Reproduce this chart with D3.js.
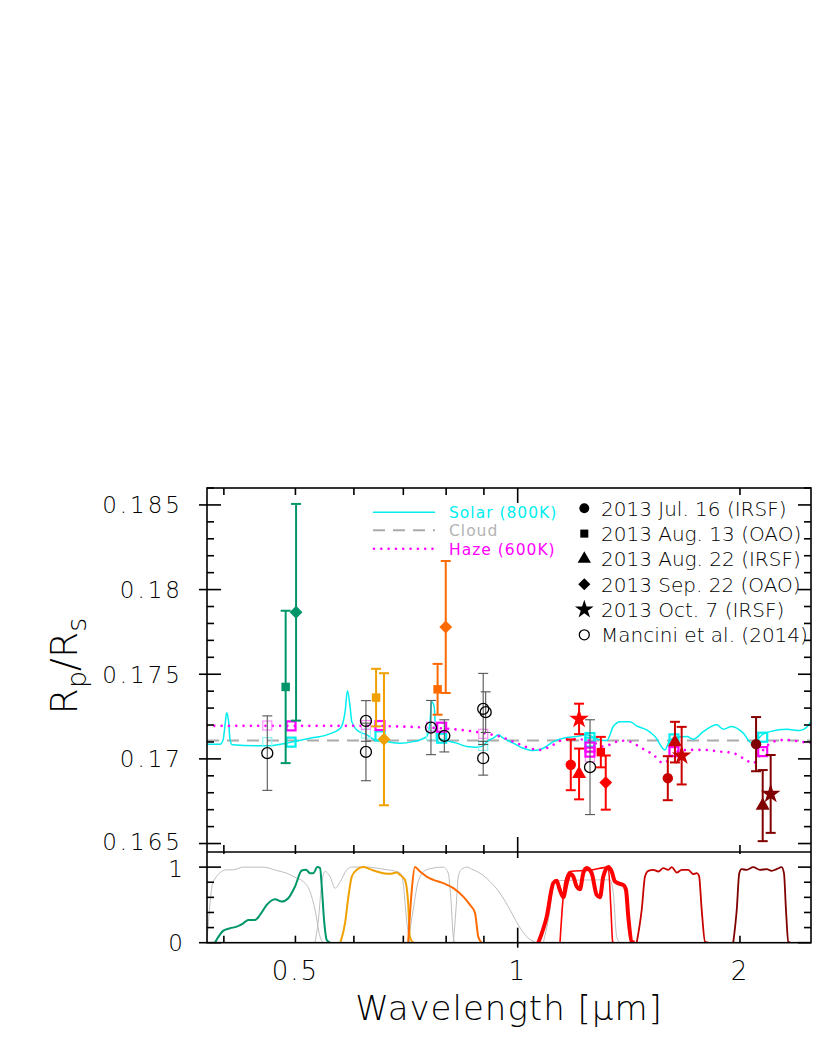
<!DOCTYPE html>
<html>
<head>
<meta charset="utf-8">
<script src="https://d3js.org/d3.v7.min.js"></script>
<style>
  body { margin: 0; background: #fff; }
</style>
</head>
<body>
<svg></svg>
<script>
// ---- data ----
// transit depth points per night: band, wavelength [um], Rp/Rs, 1-sigma error
const jul16 = [
  {band: "J",  wl: 1.180,  rp: 0.16965, err: 0.0015},
  {band: "H",  wl: 1.597,  rp: 0.16886, err: 0.0013},
  {band: "Ks", wl: 2.103,  rp: 0.17087, err: 0.0016}
];
const aug13 = [
  {band: "g", wl: 0.485, rp: 0.17425, err: 0.0045},
  {band: "r", wl: 0.643, rp: 0.17362, err: 0.0017},
  {band: "i", wl: 0.779, rp: 0.17411, err: 0.0015},
  {band: "J", wl: 1.296, rp: 0.17040, err: 0.0009}
];
const aug22 = [
  {band: "J",  wl: 1.211, rp: 0.16911, err: 0.0015},
  {band: "H",  wl: 1.633, rp: 0.17099, err: 0.0012},
  {band: "Ks", wl: 2.147, rp: 0.16724, err: 0.0021}
];
const sep22 = [
  {band: "g", wl: 0.501, rp: 0.17866, err: 0.0064},
  {band: "r", wl: 0.659, rp: 0.17116, err: 0.0039},
  {band: "i", wl: 0.799, rp: 0.17779, err: 0.0039},
  {band: "J", wl: 1.316, rp: 0.16860, err: 0.0016}
];
const oct7 = [
  {band: "J",  wl: 1.211,  rp: 0.17236, err: 0.0009},
  {band: "H",  wl: 1.6675, rp: 0.17019, err: 0.0017},
  {band: "Ks", wl: 2.201,  rp: 0.16793, err: 0.0023}
];
const mancini = [
  {wl: 0.458,  rp: 0.17034, err: 0.0022},
  {wl: 0.623,  rp: 0.17224, err: 0.0012},
  {wl: 0.623,  rp: 0.17041, err: 0.0017},
  {wl: 0.763,  rp: 0.17185, err: 0.0016},
  {wl: 0.7955, rp: 0.17136, err: 0.00095},
  {wl: 0.898,  rp: 0.17295, err: 0.0021},
  {wl: 0.905,  rp: 0.17276, err: 0.0012},
  {wl: 0.898,  rp: 0.17004, err: 0.0010},
  {wl: 1.253,  rp: 0.16951, err: 0.0028}
];

// model spectra [wavelength, Rp/Rs]
const solarModel = [
  [0.3795,0.17087],[0.3953,0.17087],[0.3990,0.17112],[0.4019,0.17218],[0.4034,0.17273],
  [0.4057,0.17230],[0.4078,0.17112],[0.4104,0.17084],[0.4572,0.17077],[0.4865,0.17093],
  [0.5233,0.17122],[0.5513,0.17142],[0.5752,0.17181],[0.5838,0.17279],[0.5880,0.17403],
  [0.5929,0.17309],[0.5961,0.17220],[0.6054,0.17171],[0.6245,0.17142],[0.6408,0.17112],
  [0.6645,0.17102],[0.6925,0.17093],[0.7218,0.17102],[0.7528,0.17132],[0.7606,0.17213],
  [0.7646,0.17338],[0.7708,0.17309],[0.7750,0.17132],[0.7929,0.17112],[0.8269,0.17093],
  [0.8530,0.17073],[0.8800,0.17069],[0.8984,0.17077],[0.9079,0.17102],[0.9268,0.17122],
  [0.9413,0.17142],[0.9561,0.17122],[0.9864,0.17093],[1.0176,0.17063],[1.0499,0.17049],
  [1.0831,0.17063],[1.1174,0.17102],[1.1528,0.17122],[1.2019,0.17132],[1.2400,0.17142],
  [1.2925,0.17112],[1.3199,0.17108],[1.3473,0.17191],[1.3758,0.17220],[1.4194,0.17220],
  [1.4494,0.17195],[1.4952,0.17171],[1.5344,0.17132],[1.5830,0.17053],[1.6079,0.17112],
  [1.6421,0.17128],[1.6938,0.17132],[1.7292,0.17116],[1.7838,0.17161],[1.8600,0.17201],
  [1.8987,0.17175],[1.9489,0.17191],[2.0206,0.17152],[2.0742,0.17093],[2.1068,0.17112],
  [2.1506,0.17146],[2.1961,0.17161],[2.3137,0.17175],[2.4116,0.17167],[2.4623,0.17187],
  [2.4956,0.17220]
];
const hazeModel = [
  [0.3795,0.17195],[0.6115,0.17195],[0.7373,0.17187],[0.8530,0.17167],[0.8984,0.17152],
  [0.9463,0.17132],[0.9969,0.17093],[1.0285,0.17069],[1.0720,0.17053],[1.1060,0.17073],
  [1.1528,0.17112],[1.2019,0.17116],[1.2528,0.17108],[1.3059,0.17073],[1.3473,0.17093],
  [1.3758,0.17108],[1.4194,0.17102],[1.4644,0.17069],[1.5265,0.17024],[1.5748,0.16975],
  [1.5916,0.16984],[1.6421,0.17043],[1.7114,0.17053],[1.7838,0.17053],[1.8792,0.17043],
  [1.9585,0.17034],[2.0206,0.17004],[2.0846,0.16975],[2.1506,0.17053],[2.2188,0.17102],
  [2.3137,0.17112],[2.4116,0.17102],[2.4956,0.17093]
];
const cloudLevel = 0.17108;

// band-integrated model values
const solarBinOurs = [
  {wl: 0.4932, rp: 0.17099}, {wl: 0.6509, rp: 0.17136}, {wl: 0.7889, rp: 0.17122},
  {wl: 1.2528, rp: 0.17126}, {wl: 1.2528, rp: 0.17099}, {wl: 1.628, rp: 0.17118},
  {wl: 2.147, rp: 0.17128}
];
const hazeBinOurs = [
  {wl: 0.4932, rp: 0.17195}, {wl: 0.6509, rp: 0.17197}, {wl: 0.7889, rp: 0.17187},
  {wl: 1.2528, rp: 0.17070}, {wl: 1.2528, rp: 0.17040}, {wl: 1.628, rp: 0.17043},
  {wl: 2.147, rp: 0.17043}
];
const solarBinMancini = [
  {wl: 0.458, rp: 0.17099}, {wl: 0.623, rp: 0.17150}, {wl: 0.763, rp: 0.17140},
  {wl: 0.898, rp: 0.17077}
];
const hazeBinMancini = [
  {wl: 0.458, rp: 0.17197}, {wl: 0.623, rp: 0.17200}, {wl: 0.763, rp: 0.17190},
  {wl: 0.898, rp: 0.17148}, {wl: 1.2528, rp: 0.17010}
];

// filter transmission curves [wavelength, T]
const filterG = [
  [0.389,0],[0.3994,0.159],[0.4078,0.191],[0.4163,0.212],[0.4250,0.257],[0.4317,0.301],
  [0.4408,0.301],[0.4477,0.367],[0.4572,0.500],[0.4691,0.576],[0.4790,0.544],[0.4890,0.589],
  [0.4994,0.743],[0.5099,0.955],[0.5168,0.964],[0.5233,0.920],[0.5287,0.920],[0.5354,1.0],
  [0.5399,0.987],[0.5428,0.743],[0.5467,0.301],[0.5513,0.036],[0.5570,0]
];
const filterR = [
  [0.5752,0],[0.5838,0.265],[0.5898,0.610],[0.5961,0.875],[0.6054,0.964],[0.6181,1.0],
  [0.6310,0.973],[0.6442,0.942],[0.6574,0.920],[0.6713,0.911],[0.6855,0.928],[0.6925,0.898],
  [0.7034,0.832],[0.7106,0.527],[0.7144,0.080],[0.7218,0]
];
const filterI = [
  [0.7106,0],[0.7182,0.659],[0.7256,1.0],[0.7373,0.942],[0.7528,0.875],[0.7685,0.832],
  [0.7929,0.788],[0.8181,0.721],[0.8439,0.610],[0.8618,0.500],[0.8753,0.394],[0.8843,0.080],
  [0.8938,0]
];
const filterJthick = [
  [1.0664,0],[1.0948,0.345],[1.1174,0.788],[1.1293,0.818],[1.1385,0.721],[1.1528,0.602],
  [1.1651,0.788],[1.1771,0.911],[1.1893,0.875],[1.2019,0.743],[1.2144,0.708],[1.2269,0.920],
  [1.2400,0.987],[1.2594,0.920],[1.2793,0.633],[1.2925,0.602],[1.3059,0.875],[1.3265,1.0],
  [1.3406,0.942],[1.3545,0.809],[1.3758,0.778],[1.3900,0.765],[1.4018,0.699],[1.4118,0.345],
  [1.4269,0.013],[1.4400,0]
];
const filterJ = [
  [1.141,0],[1.1589,0.809],[1.1771,0.942],[1.2528,0.960],[1.3265,1.0],[1.3376,0.434],
  [1.3447,0.013],[1.3500,0]
];
const filterH = [
  [1.4494,0],[1.4722,0.434],[1.4874,0.875],[1.5028,0.951],[1.5265,0.964],[1.5505,0.942],
  [1.5748,0.987],[1.5996,0.964],[1.6166,1.0],[1.6421,0.928],[1.6677,0.964],[1.7025,0.964],
  [1.7292,0.907],[1.7476,0.920],[1.7603,0.885],[1.7751,0.434],[1.7935,0.013],[1.8124,0]
];
const filterKs = [
  [1.9585,0],[1.9800,0.434],[1.9957,0.920],[2.0106,0.973],[2.0422,0.964],[2.0846,1.0],
  [2.1287,0.964],[2.1737,0.973],[2.2079,0.951],[2.2426,0.973],[2.2779,1.0],[2.2942,0.920],
  [2.3086,0.434],[2.3253,0.013],[2.3400,0]
];
const grayFilters = [
  [[0.3794,0],[0.3869,0.809],[0.4034,0.964],[0.4118,0.964],[0.4250,1.0],[0.4523,1.0],
   [0.4716,0.955],[0.4865,0.920],[0.5020,0.854],[0.5124,0.809],[0.5233,0.676],[0.5315,0.434],
   [0.5399,0.080],[0.5454,0]],
  [[0.5315,0],[0.5371,0.301],[0.5428,0.788],[0.5483,0.942],[0.5570,0.875],[0.5657,0.721],
   [0.5752,0.809],[0.5868,0.964],[0.5961,1.0],[0.6245,1.0],[0.6574,0.973],[0.6925,0.928],
   [0.6997,0.788],[0.7071,0.301],[0.7144,0]],
  [[0.7106,0],[0.7218,0.434],[0.7333,0.809],[0.7489,0.955],[0.7685,0.987],[0.7929,1.0],
   [0.8053,0.920],[0.8114,0.619],[0.8181,0.080],[0.8223,0]],
  [[0.8181,0],[0.8249,0.434],[0.8309,0.875],[0.8398,0.973],[0.8530,1.0],[0.8664,0.973],
   [0.8891,0.920],[0.9173,0.809],[0.9463,0.655],[0.9763,0.434],[1.0019,0.235],[1.0285,0.080],
   [1.0610,0]],
  [[1.0831,0],[1.1001,0.301],[1.1233,0.809],[1.1410,0.822],[1.3199,0.832],[1.3335,0.832],
   [1.3473,0.655],[1.3617,0.080],[1.3758,0]]
];

// axis ticks and labels
const wlTicks = [0.4, 0.5, 0.6, 0.7, 0.8, 0.9, 1, 2];
const wlMajor = [1];
const wlLabels = [0.5, 1, 2];
const rpMajor = [0.165, 0.17, 0.175, 0.18, 0.185];
const rpLabels = ["0.165", "0.17", "0.175", "0.18", "0.185"];
const trMajor = [0, 1];
const trMinor = [0.2, 0.4, 0.6, 0.8];

// legend
const modelLegend = ["Solar (800K)", "Cloud", "Haze (600K)"];
const nightLegend = ["2013 Jul. 16 (IRSF)", "2013 Aug. 13 (OAO)", "2013 Aug. 22 (IRSF)",
                     "2013 Sep. 22 (OAO)", "2013 Oct. 7 (IRSF)", "Mancini et al. (2014)"];

// ---- styles ----
const bandColor = {g: "#00966a", r: "#f0a000", i: "#ff6a00", J: "#ff0000", H: "#c80000", Ks: "#800000"};
const cyan = "#00eeee", magenta = "#ff00ff", cloudGray = "#aaaaaa";
const FONT = "'DejaVu Sans', sans-serif";

// ---- layout ----
var width = 817, height = 1058;
var L = 207, R = 811, T = 488, MID = 852, B = 942.7;

var x = d3.scaleLog().domain([0.3795, 2.496]).range([L, R]);
var yTop = d3.scaleLinear().domain([0.1645, 0.186]).range([MID, T]);
var yBot = d3.scaleLinear().domain([0, 1.2]).range([B, MID]);

var svg = d3.select("svg").attr("width", width).attr("height", height)
            .style("font-family", FONT).style("font-weight", 200);
svg.append("rect").attr("width", width).attr("height", height).attr("fill", "#fff");

var defs = svg.append("defs");
defs.append("clipPath").attr("id", "clipTop").append("rect")
  .attr("x", L).attr("y", T).attr("width", R - L).attr("height", MID - T);
defs.append("clipPath").attr("id", "clipBot").append("rect")
  .attr("x", L).attr("y", MID).attr("width", R - L).attr("height", B - MID);

// ---- lower panel: filter curves ----
var lowerPanel = svg.append("g").attr("clip-path", "url(#clipBot)");
var fline = d3.line().x(d => x(d[0])).y(d => yBot(d[1])).curve(d3.curveMonotoneX);

lowerPanel.selectAll("path.gray").data(grayFilters).join("path")
  .attr("class", "gray").attr("d", fline)
  .attr("fill", "none").attr("stroke", "#bdbdbd").attr("stroke-width", 1);

var colouredFilters = [
  {pts: filterG, color: bandColor.g, w: 2},
  {pts: filterR, color: bandColor.r, w: 2},
  {pts: filterI, color: bandColor.i, w: 2},
  {pts: filterJ, color: bandColor.J, w: 1.6},
  {pts: filterJthick, color: bandColor.J, w: 4},
  {pts: filterH, color: bandColor.H, w: 1.8},
  {pts: filterKs, color: bandColor.Ks, w: 1.8}
];
lowerPanel.selectAll("path.band").data(colouredFilters).join("path")
  .attr("class", "band").attr("d", d => fline(d.pts))
  .attr("fill", "none").attr("stroke", d => d.color).attr("stroke-width", d => d.w)
  .attr("stroke-linejoin", "round");

// ---- upper panel: models ----
var upperPanel = svg.append("g").attr("clip-path", "url(#clipTop)");
var mline = d3.line().x(d => x(d[0])).y(d => yTop(d[1])).curve(d3.curveMonotoneX);

upperPanel.append("line")
  .attr("x1", L).attr("x2", R).attr("y1", yTop(cloudLevel)).attr("y2", yTop(cloudLevel))
  .attr("stroke", cloudGray).attr("stroke-width", 2).attr("stroke-dasharray", "12,8");
upperPanel.append("path").datum(solarModel).attr("d", mline)
  .attr("fill", "none").attr("stroke", cyan).attr("stroke-width", 1.5);
upperPanel.append("path").datum(hazeModel).attr("d", mline)
  .attr("fill", "none").attr("stroke", magenta).attr("stroke-width", 2.6)
  .attr("stroke-dasharray", "0.01,7.3").attr("stroke-linecap", "round");

function binSquares(data, color, sw) {
  upperPanel.append("g").selectAll("rect").data(data).join("rect")
    .attr("x", d => x(d.wl) - 4.5).attr("y", d => yTop(d.rp) - 4.5)
    .attr("width", 9).attr("height", 9)
    .attr("fill", "none").attr("stroke", color).attr("stroke-width", sw);
}
binSquares(solarBinMancini, "#8ff5f5", 1.2);
binSquares(hazeBinMancini, "#ff8cff", 1.2);
binSquares(solarBinOurs, cyan, 2.2);
binSquares(hazeBinOurs, magenta, 2.2);

// ---- error bars and markers ----
function errorBars(g, data, colorFn, sw) {
  var eb = g.append("g").selectAll("g").data(data).join("g")
    .attr("stroke", colorFn).attr("stroke-width", sw);
  eb.append("line").attr("x1", d => x(d.wl)).attr("x2", d => x(d.wl))
    .attr("y1", d => yTop(d.rp - d.err)).attr("y2", d => yTop(d.rp + d.err));
  eb.append("line").attr("x1", d => x(d.wl) - 5).attr("x2", d => x(d.wl) + 5)
    .attr("y1", d => yTop(d.rp + d.err)).attr("y2", d => yTop(d.rp + d.err));
  eb.append("line").attr("x1", d => x(d.wl) - 5).attr("x2", d => x(d.wl) + 5)
    .attr("y1", d => yTop(d.rp - d.err)).attr("y2", d => yTop(d.rp - d.err));
}

var shapes = {
  circle:   {type: d3.symbolCircle, size: 85, rot: 0},
  square:   {type: d3.symbolSquare, size: 72, rot: 0},
  triangle: {type: d3.symbolTriangle, size: 85, rot: 0},
  diamond:  {type: d3.symbolSquare, size: 82, rot: 45},
  star:     {type: d3.symbolStar, size: 120, rot: 0}
};
var nights = [
  {data: jul16, shape: "circle"},
  {data: aug13, shape: "square"},
  {data: aug22, shape: "triangle"},
  {data: sep22, shape: "diamond"},
  {data: oct7,  shape: "star"}
];

var dataG = svg.append("g");
errorBars(dataG, mancini, () => "#555", 1.1);
dataG.append("g").selectAll("circle").data(mancini).join("circle")
  .attr("cx", d => x(d.wl)).attr("cy", d => yTop(d.rp)).attr("r", 5.5)
  .attr("fill", "none").attr("stroke", "#000").attr("stroke-width", 1.3);

nights.forEach(function (n) {
  errorBars(dataG, n.data, d => bandColor[d.band], 2);
  var s = shapes[n.shape];
  dataG.append("g").selectAll("path").data(n.data).join("path")
    .attr("d", d3.symbol().type(s.type).size(s.size))
    .attr("transform", d => "translate(" + x(d.wl) + "," + yTop(d.rp) + ") rotate(" + s.rot + ")")
    .attr("fill", d => bandColor[d.band]);
});

// ---- frame and ticks ----
var axes = svg.append("g").attr("stroke", "#000").attr("fill", "none");
axes.append("rect").attr("x", L).attr("y", T).attr("width", R - L).attr("height", B - T)
  .attr("stroke-width", 1.6);
axes.append("line").attr("x1", L).attr("x2", R).attr("y1", MID).attr("y2", MID)
  .attr("stroke-width", 1.6);

function tick(x1, y1, x2, y2) {
  axes.append("line").attr("x1", x1).attr("y1", y1).attr("x2", x2).attr("y2", y2)
    .attr("stroke-width", 1.6);
}
// wavelength ticks
wlTicks.forEach(function (v) {
  var px = x(v), major = wlMajor.includes(v);
  var len = major ? 15 : 7;
  tick(px, T, px, T + len);
  tick(px, MID, px, MID - len);
  tick(px, MID, px, MID + (major ? 6 : 2));
  tick(px, B, px, B - len);
  if (major) tick(px, B, px, B + 5);
});
// Rp/Rs ticks
d3.range(0.165, 0.18601, 0.001).forEach(function (v) {
  var py = yTop(v), major = rpMajor.some(m => Math.abs(m - v) < 1e-6);
  if (major) { tick(L - 8, py, L + 14, py); tick(R - 13, py, R, py); }
  else { tick(L, py, L + 7, py); tick(R - 7, py, R, py); }
});
// transmission ticks
trMajor.forEach(function (v) {
  var py = yBot(v);
  tick(L - 8, py, L + 14, py); tick(R - 13, py, R, py);
});
trMinor.forEach(function (v) {
  var py = yBot(v);
  tick(L, py, L + 7, py); tick(R - 7, py, R, py);
});

// ---- tick labels ----
var lab = svg.append("g").attr("fill", "#000");
lab.selectAll("text.rp").data(rpMajor).join("text").attr("class", "rp")
  .attr("x", 183).attr("y", d => yTop(d) - (d === 0.165 ? 2 : 0)).attr("dy", "0.36em")
  .attr("text-anchor", "end").style("font-size", "23px").style("letter-spacing", "3px")
  .text((d, i) => rpLabels[i]);
lab.selectAll("text.tr").data(trMajor).join("text").attr("class", "tr")
  .attr("x", 183).attr("y", d => yBot(d) + (d === 1 ? 2 : 0)).attr("dy", "0.36em")
  .attr("text-anchor", "end").style("font-size", "23px").text(d => d);
lab.selectAll("text.wl").data(wlLabels).join("text").attr("class", "wl")
  .attr("x", d => x(d)).attr("y", 980)
  .attr("text-anchor", "middle").style("font-size", "26px").style("letter-spacing", "2px")
  .text(d => d);

// axis titles
svg.append("text").attr("x", (L + R) / 2).attr("y", 1020).attr("text-anchor", "middle")
  .style("font-size", "34px").style("letter-spacing", "1px")
  .text("Wavelength [μm]");
svg.append("text").attr("transform", "translate(77,666) rotate(-90)")
  .attr("text-anchor", "middle").style("font-size", "38px")
  .call(t => {
    t.append("tspan").text("R");
    t.append("tspan").attr("dy", 9).style("font-size", "27px").text("p");
    t.append("tspan").attr("dy", -9).text("/R");
    t.append("tspan").attr("dy", 9).style("font-size", "27px").text("s");
  });

// ---- legends ----
var legL = svg.append("g");
var legY = [512.3, 530.3, 548.7];
var legColors = [cyan, "#b4b4b4", magenta];
legL.append("line").attr("x1", 373).attr("x2", 435).attr("y1", legY[0]).attr("y2", legY[0])
  .attr("stroke", cyan).attr("stroke-width", 1.5);
legL.append("line").attr("x1", 373).attr("x2", 435).attr("y1", legY[1]).attr("y2", legY[1])
  .attr("stroke", cloudGray).attr("stroke-width", 2).attr("stroke-dasharray", "12,8");
legL.append("line").attr("x1", 374).attr("x2", 435).attr("y1", legY[2]).attr("y2", legY[2])
  .attr("stroke", magenta).attr("stroke-width", 2.6)
  .attr("stroke-dasharray", "0.01,7.3").attr("stroke-linecap", "round");
legL.selectAll("text").data(modelLegend).join("text")
  .attr("x", 449).attr("y", (d, i) => legY[i] + 6)
  .attr("fill", (d, i) => legColors[i]).style("font-size", "15.5px").style("font-weight", 400)
  .style("letter-spacing", "1px")
  .text(d => d);

var legR = svg.append("g");
var rowY = [508.3, 533.6, 558.9, 584.2, 609.5, 634.8];
var legShapes = ["circle", "square", "triangle", "diamond", "star"];
legShapes.forEach(function (k, i) {
  var s = shapes[k];
  legR.append("path").attr("d", d3.symbol().type(s.type).size(s.size * 0.9)())
    .attr("transform", "translate(584.3," + rowY[i] + ") rotate(" + s.rot + ")")
    .attr("fill", "#000");
});
legR.append("circle").attr("cx", 584.3).attr("cy", rowY[5]).attr("r", 5)
  .attr("fill", "none").attr("stroke", "#000").attr("stroke-width", 1.3);
legR.selectAll("text").data(nightLegend).join("text")
  .attr("x", 601).attr("y", (d, i) => rowY[i] + 7.5)
  .attr("fill", "#000").style("font-size", "20px").text(d => d);
</script>
</body>
</html>
